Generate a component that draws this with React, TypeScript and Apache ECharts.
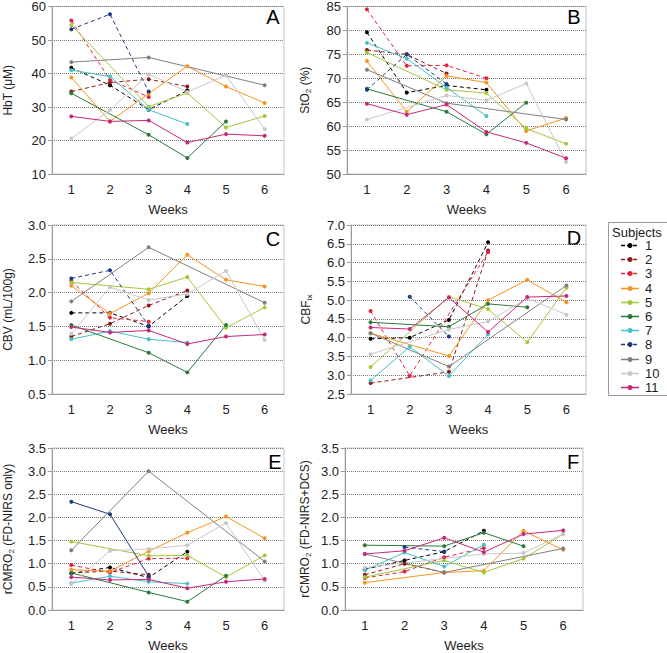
import React, { useEffect, useRef } from "react";
import * as echarts from "echarts";

const weeks = ["1", "2", "3", "4", "5", "6"];
const subjects = ["1", "2", "3", "4", "5", "6", "7", "8", "9", "10", "11"];
const subjectColors = ["#000000", "#8b1a1a", "#e8203c", "#f7941e", "#a5c73a", "#2a7a3a", "#45c1c9", "#1c3a80", "#808080", "#c8c8c8", "#c8287a"];
const dashedSubjects = ["1", "2", "3", "8"];

type Row = (number | null)[];
const _ = null;

const hbt: Row[] = [
  [41.7, 36.5, 29.2, 34.9, _, _],
  [34.6, 37.3, 38.3, 36.1, _, _],
  [55.8, 38.1, 33.0, _, _, _],
  [38.8, 25.7, 34.0, 42.2, 36.1, 31.2],
  [54.5, _, 30.1, 34.2, 23.9, 27.3],
  [34.1, _, 21.7, 14.8, 25.7, _],
  [41.0, 39.1, 29.2, 24.9, _, _],
  [53.2, 57.7, 34.6, _, _, _],
  [43.4, _, 44.8, _, _, 36.5],
  [20.6, 29.1, 39.8, 34.5, 39.5, 23.4],
  [27.2, 25.7, 26.0, 19.4, 21.9, 21.4],
];

const sto2: Row[] = [
  [79.6, 67.0, 68.5, 67.6, _, _],
  [75.9, 75.0, 71.0, _, _, _],
  [84.4, 72.6, 72.7, 70.0, _, _],
  [73.6, 63.0, 70.5, 69.1, 59.0, 61.7],
  [75.4, _, 67.6, 66.9, 59.5, 56.3],
  [67.8, _, 63.0, 58.3, 64.9, _],
  [77.4, 74.1, 68.1, 62.1, _, _],
  [67.6, 75.0, 68.8, _, _, _],
  [71.8, _, 64.8, _, _, 61.4],
  [61.4, _, 66.4, 65.4, 68.9, 52.5],
  [64.7, 62.4, 64.5, 58.8, 56.5, 53.3],
];

const cbv: Row[] = [
  [1.70, 1.70, 1.50, 1.95, _, _],
  [1.35, 1.54, 1.81, 2.03, _, _],
  [2.17, 1.63, 1.57, _, _, _],
  [2.10, 1.69, 1.99, 2.56, 2.19, 2.09],
  [2.15, _, 2.05, 2.23, 1.48, 1.78],
  [1.52, _, 1.11, 0.82, 1.52, _],
  [1.31, 1.43, 1.31, 1.26, _, _],
  [2.21, 2.33, 1.51, _, _, _],
  [1.87, _, 2.67, _, _, 1.85],
  [1.39, 2.08, 1.89, 1.98, 2.32, 1.30],
  [1.49, 1.41, 1.44, 1.24, 1.35, 1.38],
];

const cbfix: Row[] = [
  [3.97, 4.00, 4.47, 6.54, _, _],
  [2.79, _, 3.09, 6.32, _, _],
  [4.71, 2.98, _, 6.28, _, _],
  [4.12, _, 3.51, 5.00, 5.54, 4.94],
  [3.22, _, 5.09, 4.76, 3.88, 5.33],
  [4.41, _, 4.29, 4.90, 4.81, _],
  [2.86, 3.76, 2.98, 4.09, _, _],
  [_, 5.09, 4.03, _, _, _],
  [4.12, _, 3.23, _, _, 5.39],
  [3.56, _, 4.22, 4.43, 5.05, 4.61],
  [4.27, 4.23, 5.07, 4.15, 5.08, 5.11],
];

const cmro2Fd: Row[] = [
  [0.79, 0.92, 0.70, 1.26, _, _],
  [0.80, 0.84, 0.76, _, _, _],
  [0.97, 0.81, 1.11, 1.12, _, _],
  [0.87, 0.84, 1.27, 1.67, 2.02, 1.55],
  [1.48, _, 1.17, 1.18, 0.71, 1.18],
  [0.80, _, 0.38, 0.18, 0.74, _],
  [0.58, 0.73, 0.61, 0.57, _, _],
  [2.34, 2.07, 0.73, _, _, _],
  [1.29, _, 3.00, _, _, 1.05],
  [0.56, 1.28, 1.32, 1.40, 1.88, 0.63],
  [0.71, 0.65, 0.66, 0.47, 0.61, 0.67],
];

const cmro2Dcs: Row[] = [
  [0.88, 1.07, 1.26, 1.71, _, _],
  [0.76, 1.00, 0.81, _, _, _],
  [0.69, 0.83, 1.14, 1.34, _, _],
  [0.59, _, 0.81, 0.85, 1.71, 1.30],
  [0.71, _, 1.07, 0.81, 1.11, 1.64],
  [1.40, _, 1.38, 1.67, 1.38, _],
  [0.86, 1.24, 0.94, 1.41, _, _],
  [_, 1.36, 1.26, _, _, _],
  [1.21, _, 0.81, _, _, 1.33],
  [0.92, _, _, 1.21, 1.23, 1.64],
  [1.21, 1.28, 1.56, 1.25, 1.64, 1.72],
];

const FONT = "'Liberation Sans', Arial, sans-serif";

const panels = [
  { letter: "A", data: hbt, name: "HbT (μM)", min: 10, max: 60, interval: 10, dec: 0, grid: { left: 49, top: 5, width: 235, height: 169 }, nameGap: 37, lx: 273, ly: 17, solid: [] as string[] },
  { letter: "B", data: sto2, name: "StO{s|2} (%)", min: 50, max: 85, interval: 5, dec: 0, grid: { left: 347, top: 5, width: 239, height: 169 }, nameGap: 35, lx: 574, ly: 17, solid: [] },
  { letter: "C", data: cbv, name: "CBV (mL/100g)", min: 0.5, max: 3.0, interval: 0.5, dec: 1, grid: { left: 49, top: 225, width: 235, height: 169 }, nameGap: 37, lx: 273, ly: 239, solid: [] },
  { letter: "D", data: cbfix, name: "CBF{s|ix}", min: 2.5, max: 7.0, interval: 0.5, dec: 1, grid: { left: 351, top: 225, width: 235, height: 169 }, nameGap: 38, lx: 574, ly: 238, solid: [] },
  { letter: "E", data: cmro2Fd, name: "rCMRO{s|2} (FD-NIRS only)", min: 0, max: 3.5, interval: 0.5, dec: 1, grid: { left: 49, top: 448, width: 235, height: 170 }, nameGap: 37, lx: 275, ly: 462, solid: ["8"] },
  { letter: "F", data: cmro2Dcs, name: "rCMRO{s|2} (FD-NIRS+DCS)", min: 0, max: 3.5, interval: 0.5, dec: 1, grid: { left: 345, top: 448, width: 238, height: 170 }, nameGap: 33, lx: 573, ly: 462, solid: [] },
];

const legendLayout = { boxX: 608.5, boxY: 222.5, boxW: 62, boxH: 173, titleX: 612, titleY: 232, iconX: 621, iconW: 18, textX: 645, firstY: 245, step: 14.2 };

export default function App() {
  const ref = useRef<HTMLDivElement>(null);
  useEffect(() => {
    if (!ref.current) return;
    const chart = echarts.init(ref.current, undefined, { renderer: "svg" });
    const grids: any[] = [];
    const xAxes: any[] = [];
    const yAxes: any[] = [];
    const series: any[] = [];
    const graphics: any[] = [];
    panels.forEach((p, pi) => {
      grids.push({ ...p.grid, show: true, borderColor: "#c4c4c4", borderWidth: 1, containLabel: false });
      xAxes.push({
        type: "category",
        gridIndex: pi,
        data: weeks,
        boundaryGap: true,
        axisLine: { show: true, lineStyle: { color: "#9a9a9a" } },
        axisTick: { show: false },
        axisLabel: { fontSize: 13, color: "#222", fontFamily: FONT, margin: 9 },
        name: "Weeks",
        nameLocation: "middle",
        nameGap: 29,
        nameTextStyle: { fontSize: 13, color: "#222", fontFamily: FONT },
      });
      yAxes.push({
        type: "value",
        gridIndex: pi,
        min: p.min,
        max: p.max,
        interval: p.interval,
        axisLine: { show: true, lineStyle: { color: "#9a9a9a" } },
        axisTick: { show: true, length: 4, lineStyle: { color: "#9a9a9a" } },
        axisLabel: { fontSize: 13, color: "#222", fontFamily: FONT, margin: 6, formatter: (v: number) => v.toFixed(p.dec) },
        splitLine: { show: true, lineStyle: { type: "dotted", color: "#7a7a7a", width: 1 } },
        name: p.name,
        nameLocation: "middle",
        nameGap: p.nameGap,
        nameRotate: 90,
        nameTextStyle: {
          fontSize: 12,
          color: "#222",
          fontFamily: FONT,
          lineHeight: 14,
          rich: { s: { fontSize: 8, fontFamily: FONT, color: "#222", verticalAlign: "bottom", lineHeight: 10, padding: [6, 0, 0, 0] } },
        },
      });
      subjects.forEach((s, si) => {
        const dashed = dashedSubjects.includes(s) && !p.solid.includes(s);
        series.push({
          type: "line",
          name: s,
          xAxisIndex: pi,
          yAxisIndex: pi,
          data: p.data[si],
          connectNulls: true,
          symbol: "circle",
          symbolSize: 4,
          showSymbol: true,
          color: subjectColors[si],
          lineStyle: { width: 1, color: subjectColors[si], type: dashed ? [4, 3] : "solid" },
          itemStyle: { color: subjectColors[si] },
          emphasis: { disabled: true },
          z: 2,
        });
      });
      graphics.push({
        type: "text",
        x: p.lx,
        y: p.ly,
        style: { text: p.letter, fontSize: 20, fontFamily: FONT, fill: "#000", align: "center", verticalAlign: "middle" },
      });
    });
    const L = legendLayout;
    graphics.push({
      type: "rect",
      shape: { x: L.boxX, y: L.boxY, width: L.boxW, height: L.boxH },
      style: { fill: "#fff", stroke: "#999", lineWidth: 1 },
      z: -1,
    });
    graphics.push({
      type: "text",
      x: L.titleX,
      y: L.titleY,
      style: { text: "Subjects", fontSize: 13, lineHeight: 13, fontFamily: FONT, fill: "#222", align: "left", verticalAlign: "middle" },
    });
    subjects.forEach((s, si) => {
      const y = Math.round(L.firstY + si * L.step) + 0.5;
      const dashed = dashedSubjects.includes(s);
      graphics.push({
        type: "line",
        shape: { x1: L.iconX, y1: y, x2: L.iconX + L.iconW, y2: y },
        style: { stroke: subjectColors[si], lineWidth: 1.5, lineDash: dashed ? [4, 2] : null },
      });
      graphics.push({
        type: "circle",
        shape: { cx: L.iconX + L.iconW / 2, cy: y, r: 2.5 },
        style: { fill: subjectColors[si] },
      });
      graphics.push({
        type: "text",
        x: L.textX,
        y: y,
        style: { text: s, fontSize: 13, lineHeight: 13, fontFamily: FONT, fill: "#222", align: "left", verticalAlign: "middle" },
      });
    });
    chart.setOption({
      animation: false,
      backgroundColor: "#fff",
      grid: grids,
      xAxis: xAxes,
      yAxis: yAxes,
      series,
      graphic: graphics,
    });
    return () => chart.dispose();
  }, []);
  return <div ref={ref} style={{ position: "absolute", left: 0, top: 0, width: 667, height: 653 }} />;
}
